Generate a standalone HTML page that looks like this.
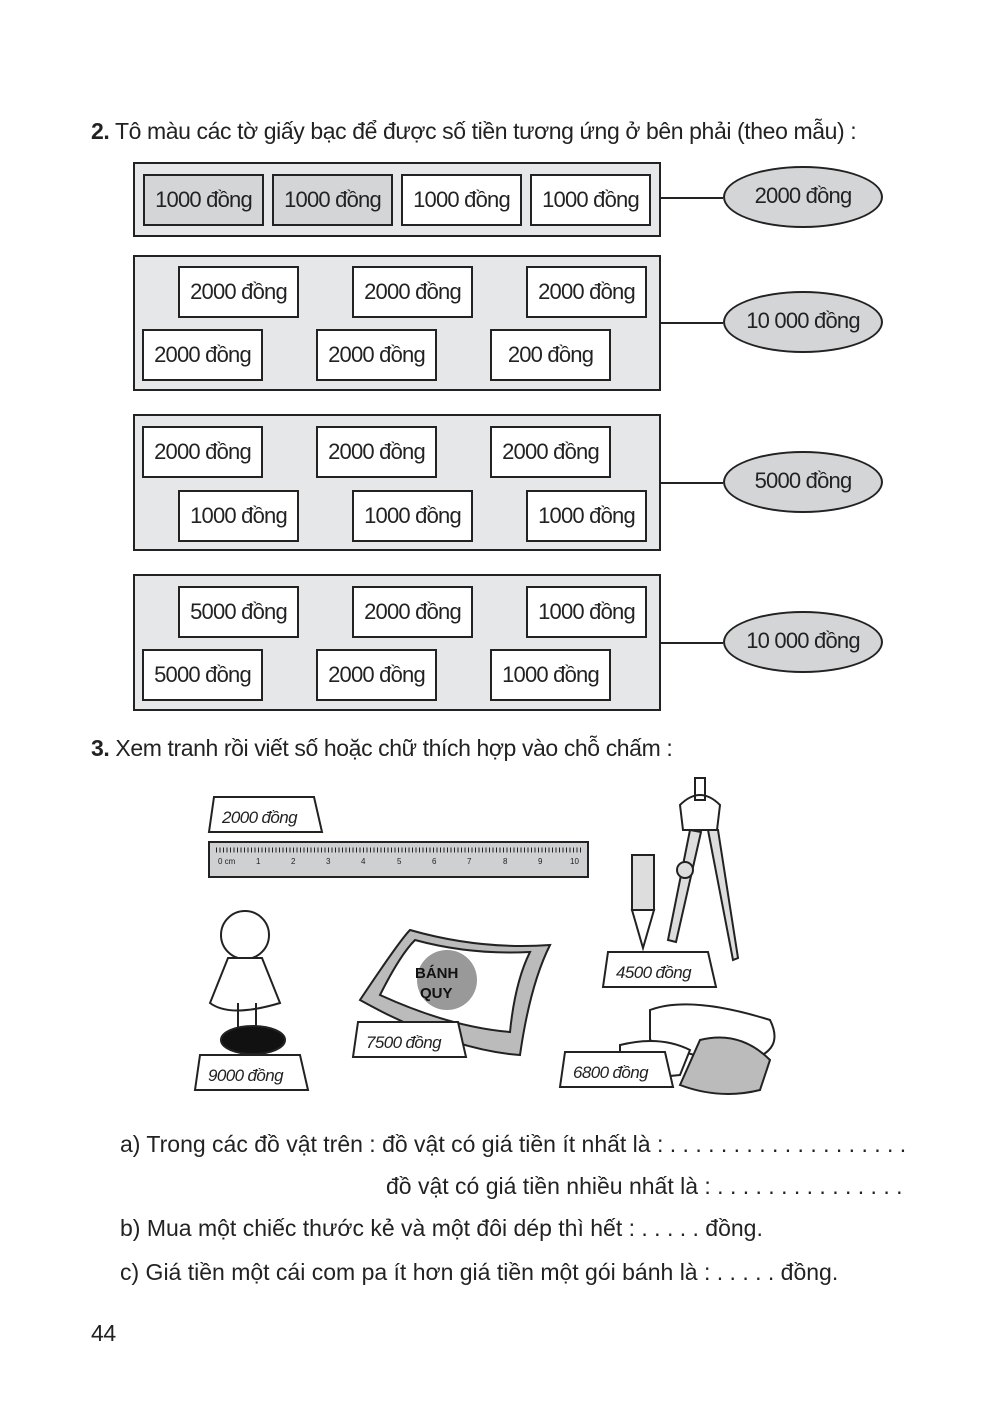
<!DOCTYPE html>
<html><head><meta charset="utf-8"><style>
body{margin:0;width:1004px;height:1417px;background:#fff;position:relative;font-family:"Liberation Sans",sans-serif;color:#222;overflow:hidden}
.t{position:absolute;white-space:nowrap;font-size:23px;letter-spacing:-0.4px}
.a{letter-spacing:0}
.box{position:absolute;left:133px;width:524px;background:#e6e7e9;border:2px solid #222}
.b{position:absolute;border:2px solid #222;background:#fff;font-size:22px;letter-spacing:-0.8px;text-align:center;line-height:48px;box-sizing:border-box;width:121px;height:52px}
.g{background:#d4d5d7}
.e{position:absolute;left:723px;width:160px;height:62px;border:2px solid #222;border-radius:50%;background:#d4d5d7;box-sizing:border-box;text-align:center;line-height:56px;font-size:22px;letter-spacing:-0.8px}
.l{position:absolute;left:661px;width:62px;height:2px;background:#222}
</style></head><body>
<div class="t" style="left:91px;top:118px"><b>2.</b> Tô màu các tờ giấy bạc để được số tiền tương ứng ở bên phải (theo mẫu) :</div>

<div class="box" style="top:162px;height:71px"></div>
<div class="b g" style="left:143px;top:174px">1000 đồng</div>
<div class="b g" style="left:272px;top:174px">1000 đồng</div>
<div class="b" style="left:401px;top:174px">1000 đồng</div>
<div class="b" style="left:530px;top:174px">1000 đồng</div>
<div class="l" style="top:197px"></div><div class="e" style="top:166px">2000 đồng</div>

<div class="box" style="top:255px;height:132px"></div>
<div class="b" style="left:178px;top:266px">2000 đồng</div>
<div class="b" style="left:352px;top:266px">2000 đồng</div>
<div class="b" style="left:526px;top:266px">2000 đồng</div>
<div class="b" style="left:142px;top:329px">2000 đồng</div>
<div class="b" style="left:316px;top:329px">2000 đồng</div>
<div class="b" style="left:490px;top:329px">200 đồng</div>
<div class="l" style="top:322px"></div><div class="e" style="top:291px">10 000 đồng</div>

<div class="box" style="top:414px;height:133px"></div>
<div class="b" style="left:142px;top:426px">2000 đồng</div>
<div class="b" style="left:316px;top:426px">2000 đồng</div>
<div class="b" style="left:490px;top:426px">2000 đồng</div>
<div class="b" style="left:178px;top:490px">1000 đồng</div>
<div class="b" style="left:352px;top:490px">1000 đồng</div>
<div class="b" style="left:526px;top:490px">1000 đồng</div>
<div class="l" style="top:482px"></div><div class="e" style="top:451px">5000 đồng</div>

<div class="box" style="top:574px;height:133px"></div>
<div class="b" style="left:178px;top:586px">5000 đồng</div>
<div class="b" style="left:352px;top:586px">2000 đồng</div>
<div class="b" style="left:526px;top:586px">1000 đồng</div>
<div class="b" style="left:142px;top:649px">5000 đồng</div>
<div class="b" style="left:316px;top:649px">2000 đồng</div>
<div class="b" style="left:490px;top:649px">1000 đồng</div>
<div class="l" style="top:642px"></div><div class="e" style="top:611px">10 000 đồng</div>

<div class="t" style="left:91px;top:735px"><b>3.</b> Xem tranh rồi viết số hoặc chữ thích hợp vào chỗ chấm :</div>

<svg style="position:absolute;left:0;top:0" width="1004" height="1417">
<g stroke="#222" stroke-width="2" fill="#fff">
<rect x="209" y="842" width="379" height="35" fill="#cfd0d2"/>
<path d="M695 778h10v22h-10z M680 805q20-20 40 0l-3 25h-34z" />
<path d="M690 830l-22 110 8 2 25-110z" fill="#ddd"/>
<path d="M708 830l25 130 5-2-20-128z" fill="#ddd"/>
<circle cx="685" cy="870" r="8" fill="#ddd"/>
<rect x="632" y="855" width="22" height="55" fill="#ddd"/>
<path d="M632 910l11 38 11-38z"/>
<path d="M360 1000q40-60 50-70q70 20 140 15q-20 40-30 110q-70-5-160-55z" fill="#bbb"/>
<path d="M380 995q20-40 35-55q55 15 115 12q-15 30-20 80q-60-5-130-37z" fill="#fff"/>
<circle cx="447" cy="980" r="30" fill="#999" stroke="none"/>
<circle cx="245" cy="935" r="24" fill="#fff"/>
<path d="M228 958l-18 45q20 15 70 0l-18-45z"/>
<path d="M238 1003v30M256 1003v30"/>
<ellipse cx="253" cy="1040" rx="32" ry="14" fill="#111"/>
<path d="M650 1010q40-15 120 10q15 30-20 40q-60 0-100-20z" fill="#fff"/>
<path d="M700 1040q40-10 70 20l-10 30q-40 10-80-5z" fill="#bbb"/>
<path d="M620 1045q40-10 70 5l-10 25q-40 5-60-10z" fill="#fff"/>
<path d="M214 797h100l8 35h-113z"/>
<path d="M200 1055h100l8 35h-113z"/>
<path d="M358 1022h100l8 35h-113z"/>
<path d="M608 952h100l8 35h-113z"/>
<path d="M565 1052h100l8 35h-113z"/>
</g>
<g font-family="Liberation Sans,sans-serif" font-size="8" fill="#222">
<text x="218" y="864">0 cm</text><text x="256" y="864">1</text><text x="291" y="864">2</text><text x="326" y="864">3</text><text x="361" y="864">4</text><text x="397" y="864">5</text><text x="432" y="864">6</text><text x="467" y="864">7</text><text x="503" y="864">8</text><text x="538" y="864">9</text><text x="570" y="864">10</text>
</g>
<path d="M216 850H582" stroke="#222" stroke-width="5" stroke-dasharray="1 2.5"/>
<g font-family="Liberation Sans,sans-serif" font-size="17" font-style="italic" fill="#222" letter-spacing="-0.6">
<text x="222" y="823">2000 đồng</text>
<text x="208" y="1081">9000 đồng</text>
<text x="366" y="1048">7500 đồng</text>
<text x="616" y="978">4500 đồng</text>
<text x="573" y="1078">6800 đồng</text>
</g>
<text x="415" y="978" font-family="Liberation Sans" font-weight="bold" font-size="15" fill="#111">BÁNH</text>
<text x="420" y="998" font-family="Liberation Sans" font-weight="bold" font-size="15" fill="#111">QUY</text>
</svg>

<div class="t a" style="left:120px;top:1131px">a) Trong các đồ vật trên : đồ vật có giá tiền ít nhất là : . . . . . . . . . . . . . . . . . . .</div>
<div class="t a" style="left:386px;top:1173px">đồ vật có giá tiền nhiều nhất là : . . . . . . . . . . . . . . .</div>
<div class="t a" style="left:120px;top:1215px">b) Mua một chiếc thước kẻ và một đôi dép thì hết : . . . . . đồng.</div>
<div class="t a" style="left:120px;top:1259px">c) Giá tiền một cái com pa ít hơn giá tiền một gói bánh là : . . . . . đồng.</div>
<div class="t" style="left:91px;top:1320px">44</div>
</body></html>
